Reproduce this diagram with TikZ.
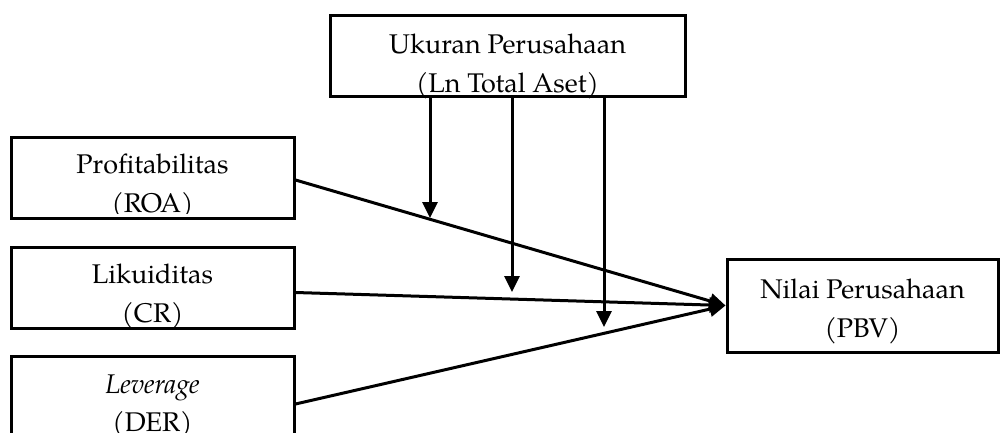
\documentclass[tikz,border=0pt]{standalone}
\usepackage{fontspec}
\setmainfont{TeX Gyre Pagella}
\usetikzlibrary{arrows.meta}
\begin{document}
\begin{tikzpicture}[x=1pt,y=-1pt,
  box/.style={draw=black,line width=3pt,inner sep=0pt},
  txt/.style={anchor=base,inner sep=0pt,font=\fontsize{27}{33}\selectfont},
  conn/.style={line width=3pt,-{Triangle[length=16pt,width=15pt]}}]
\useasboundingbox (0,0) rectangle (1000,432);
% boxes
\node[box,minimum width=355pt,minimum height=81pt] (U) at (507.5,55.5) {};
\node[box,minimum width=283pt,minimum height=81pt] (P) at (152.5,177.5) {};
\node[box,minimum width=283pt,minimum height=81pt] (L) at (152.5,287.5) {};
\node[box,minimum width=283pt,minimum height=81pt] (V) at (152.5,396.5) {};
\node[box,minimum width=271pt,minimum height=93pt] (N) at (862.5,305.5) {};
% texts
\node[txt] (Ut1) at (507.5,53.5) {Ukuran Perusahaan};
\node[txt] (Ut2) at (507.5,92.5) {(Ln Total Aset)};
\begin{scope}
\clip (P.north west) rectangle ([yshift=6pt]P.south east);
\node[txt] (Pt1) at (152.5,173.5) {Profitabilitas};
\node[txt] (Pt2) at (152.5,212) {(ROA)};
\end{scope}
\begin{scope}
\clip (L.north west) rectangle ([yshift=3.5pt]L.south east);
\node[txt] (Lt1) at (152.5,283.5) {Likuiditas};
\node[txt] (Lt2) at (152.5,322) {(CR)};
\end{scope}
\node[txt] (Vt1) at (152.5,393) {\textit{Leverage}};
\node[txt] (Vt2) at (152.5,431) {(DER)};
\node[txt] (Nt1) at (862.5,298.5) {Nilai Perusahaan};
\node[txt] (Nt2) at (862.5,337) {(PBV)};
% end points of moderating arrows
\coordinate (a1) at (430,218);
\coordinate (a2) at (512,292);
\coordinate (a3) at (604,327);
% connectors
\draw[conn] ([yshift=-2.5pt]P.east) -- (N.west);
\draw[conn] ([yshift=-5pt]L.east) -- (N.west);
\draw[conn] ([yshift=-7.5pt]V.east) -- (N.west);
\draw[conn] ([xshift=-77.5pt]U.south) -- (a1);
\draw[conn] ([xshift=4.5pt]U.south) -- (a2);
\draw[conn] ([xshift=96.5pt]U.south) -- (a3);
\end{tikzpicture}
\end{document}
